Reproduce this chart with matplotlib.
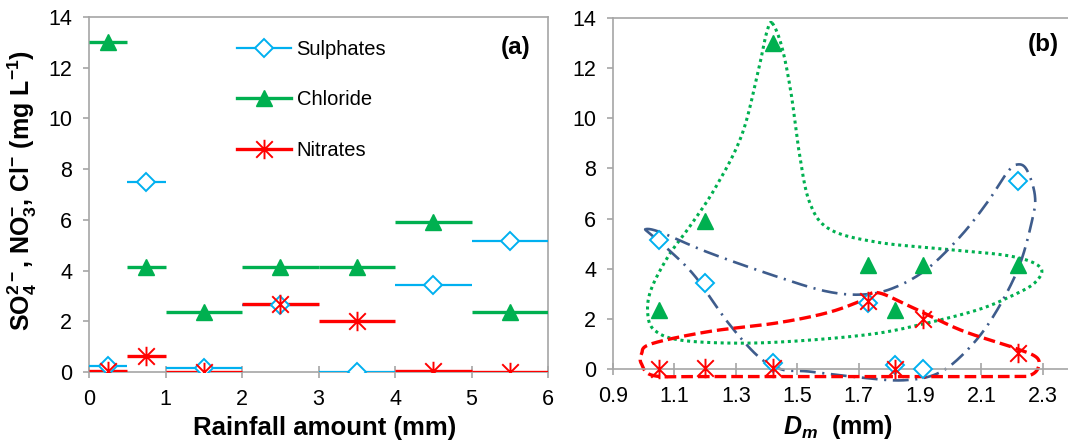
import numpy as np
import matplotlib
matplotlib.use("Agg")
import matplotlib.pyplot as plt
from matplotlib.path import Path
from matplotlib.lines import Line2D

plt.rcParams['font.family'] = ['Liberation Sans', 'DejaVu Sans']
plt.rcParams['mathtext.fontset'] = 'custom'
plt.rcParams['mathtext.rm'] = 'Liberation Sans:bold'
plt.rcParams['mathtext.it'] = 'Liberation Sans:bold:italic'
plt.rcParams['mathtext.bf'] = 'Liberation Sans:bold'

# ---- data -------------------------------------------------------------
bin_edges = [0, 0.5, 1, 2, 3, 4, 5, 6]          # rainfall classes (mm)
sulphates = [0.25, 7.5, 0.15, 2.65, 0.0, 3.45, 5.15]
chloride = [13.0, 4.13, 2.37, 4.13, 4.13, 5.9, 2.37]
nitrates = [0.02, 0.65, 0.0, 2.7, 2.0, 0.05, 0.0]
dm_values = [1.42, 2.22, 1.82, 1.73, 1.91, 1.2, 1.05]  # mean drop diameter per class (mm)

series_names = ["Sulphates", "Chloride", "Nitrates"]
x_ticks_a = [0, 1, 2, 3, 4, 5, 6]
x_ticks_b = [0.9, 1.1, 1.3, 1.5, 1.7, 1.9, 2.1, 2.3]
y_ticks = [0, 2, 4, 6, 8, 10, 12, 14]

# hand-drawn grouping outlines in panel (b): (Dm, concentration) control points
chloride_outline = [
    (1.418, 13.8), (1.45, 12.85), (1.48, 11.0), (1.506, 8.68), (1.54, 6.66),
    (1.605, 5.58), (1.759, 5.06), (1.98, 4.78), (2.196, 4.5), (2.292, 4.05),
    (2.274, 3.44), (2.196, 2.9), (2.088, 2.36), (1.922, 1.83), (1.759, 1.42),
    (1.538, 1.15), (1.32, 1.03), (1.12, 1.15), (1.035, 1.55), (1.013, 2.23),
    (1.024, 3.17), (1.08, 4.5), (1.144, 5.58), (1.232, 7.2), (1.32, 9.35),
    (1.375, 12.0), (1.40, 13.4),
]
sulphate_outline = [
    (1.007, 5.58), (1.056, 5.45), (1.21, 4.65), (1.43, 3.7), (1.594, 3.1),
    (1.714, 2.97), (1.813, 3.23), (1.922, 3.98), (2.033, 5.31), (2.12, 6.66),
    (2.186, 7.87), (2.219, 8.16), (2.248, 7.94), (2.274, 6.94), (2.266, 5.98),
    (2.219, 3.98), (2.131, 1.95), (2.043, 0.62), (1.955, -0.19), (1.846, -0.45),
    (1.714, -0.35), (1.538, -0.1), (1.45, -0.02), (1.375, 0.48), (1.276, 1.83),
    (1.167, 3.7), (1.079, 4.78), (1.02, 5.4),
]
nitrate_outline = [
    (1.759, 3.05), (1.867, 2.5), (2.033, 1.55), (2.196, 0.89), (2.278, 0.48),
    (2.285, 0.05), (2.258, -0.25), (2.196, -0.3), (1.759, -0.3), (1.21, -0.3),
    (1.035, -0.27), (0.993, 0.2), (0.993, 0.6), (1.024, 1.0), (1.21, 1.49),
    (1.43, 1.83), (1.594, 2.23), (1.704, 2.7),
]

# ---- styles -----------------------------------------------------------
c_sul = '#00B0F0'
c_chl = '#00B050'
c_nit = '#FF0000'
c_env = '#3E5C8C'
axis_grey = '#A6A6A6'

star_marker = Path(
    [(0, -1), (0, 1), (-0.85, -0.85), (0.85, 0.85), (-0.85, 0.85), (0.85, -0.85)],
    [Path.MOVETO, Path.LINETO, Path.MOVETO, Path.LINETO, Path.MOVETO, Path.LINETO],
)

mk_sul = dict(marker='D', ms=9.2, mfc='white', mec=c_sul, mew=1.4, ls='none')
mk_chl = dict(marker='^', ms=11, mfc=c_chl, mec=c_chl, mew=1.0, ls='none')
mk_nit = dict(marker=star_marker, ms=14, mfc='none', mec=c_nit, mew=1.4, ls='none')


def closed_spline(points, n=30):
    """Closed Catmull-Rom curve through the given points."""
    P = np.asarray(points, dtype=float)
    N = len(P)
    t = np.linspace(0, 1, n, endpoint=False)[:, None]
    parts = []
    for i in range(N):
        p0, p1, p2, p3 = P[(i - 1) % N], P[i], P[(i + 1) % N], P[(i + 2) % N]
        parts.append(0.5 * (2 * p1 + (-p0 + p2) * t
                            + (2 * p0 - 5 * p1 + 4 * p2 - p3) * t ** 2
                            + (-p0 + 3 * p1 - 3 * p2 + p3) * t ** 3))
    parts.append(P[:1])
    return np.vstack(parts)


def style_axes(ax):
    for s in ax.spines.values():
        s.set_color(axis_grey)
        s.set_linewidth(1.2)
    ax.tick_params(axis='both', colors=axis_grey, labelcolor='black',
                   labelsize=15.5, width=1.2)
    ax.tick_params(axis='x', direction='inout', length=8, pad=8)
    ax.tick_params(axis='y', direction='out', length=4, pad=8)
    ax.set_yticks(y_ticks)
    ax.set_ylim(0, 14)


fig = plt.figure(figsize=(10.68, 4.45), dpi=100)
ax_a = fig.add_axes([89 / 1068, 1 - 372 / 445, 459 / 1068, 355 / 445])
ax_b = fig.add_axes([613 / 1068, 1 - 369 / 445, 455 / 1068, 351 / 445])

# ---- panel (a) --------------------------------------------------------
lefts = np.array(bin_edges[:-1])
rights = np.array(bin_edges[1:])
mids = (lefts + rights) / 2

ax_a.hlines(sulphates, lefts, rights, color=c_sul, lw=1.6, zorder=3)
ax_a.plot(mids, sulphates, zorder=4, **mk_sul)
ax_a.hlines(chloride, lefts, rights, color=c_chl, lw=2.4, zorder=3)
ax_a.plot(mids, chloride, zorder=4, **mk_chl)
ax_a.hlines(nitrates, lefts, rights, color=c_nit, lw=2.4, zorder=3)
ax_a.plot(mids, nitrates, zorder=4, **mk_nit)

style_axes(ax_a)
ax_a.set_xlim(0, 6)
ax_a.set_xticks(x_ticks_a)
ax_a.set_xlabel("Rainfall amount (mm)", fontsize=18.5, fontweight='bold')
ax_a.xaxis.set_label_coords(0.513, -0.125)
ax_a.set_ylabel(r"SO$_\mathrm{4}^\mathrm{2-}$, NO$_\mathrm{3}^\mathrm{-}$, Cl$^\mathrm{-}$ (mg L$^\mathrm{-1}$)",
                fontsize=18, fontweight='bold')
ax_a.yaxis.set_label_coords(-0.11, 0.51)
ax_a.text(0.93, 0.915, "(a)", transform=ax_a.transAxes, fontsize=17.5,
          fontweight='bold', ha='center', va='center')

handles = [
    Line2D([], [], color=c_sul, lw=1.6, **{k: v for k, v in mk_sul.items() if k != 'ls'}),
    Line2D([], [], color=c_chl, lw=2.4, **{k: v for k, v in mk_chl.items() if k != 'ls'}),
    Line2D([], [], color=c_nit, lw=2.4, **{k: v for k, v in mk_nit.items() if k != 'ls'}),
]
ax_a.legend(handles, series_names, loc='upper left', bbox_to_anchor=(0.322, 0.935),
            frameon=False, fontsize=14.5, handlelength=2.67, handletextpad=0.3,
            labelspacing=1.56, borderpad=0, borderaxespad=0)

# ---- panel (b) --------------------------------------------------------
for outline, color, ls, lw in [
    (chloride_outline, c_chl, (0, (1, 1.2)), 2.2),
    (sulphate_outline, c_env, (0, (6, 2.5, 0.8, 2.5)), 1.9),
    (nitrate_outline, c_nit, (0, (3.5, 1.5)), 2.4),
]:
    xy = closed_spline(outline)
    ax_b.plot(xy[:, 0], xy[:, 1], color=color, ls=ls, lw=lw, clip_on=False, zorder=2)

ax_b.plot(dm_values, sulphates, zorder=4, clip_on=False, **mk_sul)
ax_b.plot(dm_values, chloride, zorder=4, clip_on=False, **mk_chl)
ax_b.plot(dm_values, nitrates, zorder=4, clip_on=False, **mk_nit)

style_axes(ax_b)
ax_b.spines['right'].set_visible(False)
ax_b.set_xlim(0.9, 2.382)
ax_b.set_xticks(x_ticks_b)
ax_b.set_xticklabels([f"{v:.1f}" for v in x_ticks_b])
ax_b.set_xlabel(r"$D_m$  (mm)", fontsize=18, fontweight='bold')
ax_b.xaxis.set_label_coords(0.495, -0.125)
fig.text(1043 / 1068, 1 - 45 / 445, "(b)", fontsize=17.5, fontweight='bold',
         ha='center', va='center')

fig.savefig("out.png", dpi=100)
